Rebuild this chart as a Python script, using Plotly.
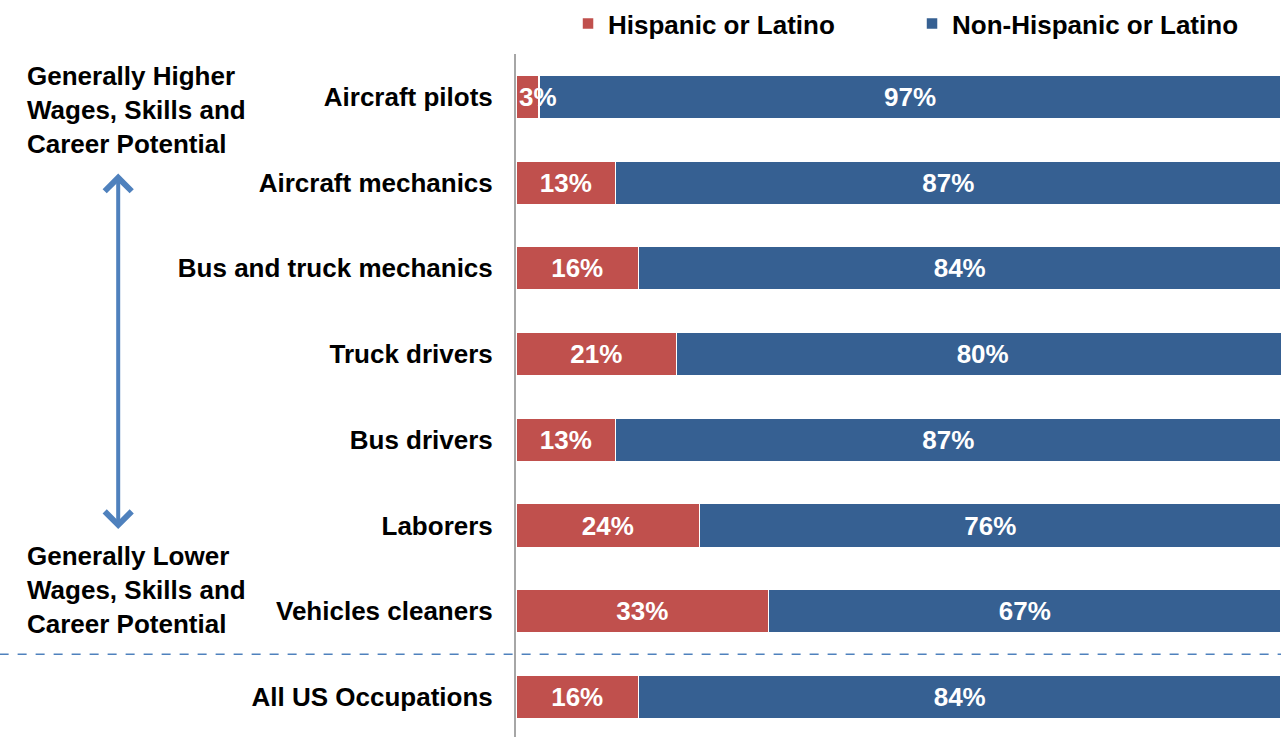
import plotly.graph_objects as go

categories = ["Aircraft pilots", "Aircraft mechanics", "Bus and truck mechanics",
              "Truck drivers", "Bus drivers", "Laborers", "Vehicles cleaners",
              "All US Occupations"]
hispanic = [3, 13, 16, 21, 13, 24, 33, 16]
non_hispanic = [97, 87, 84, 80, 87, 76, 67, 84]

RED = "#C0504D"
BLUE = "#366092"
FONT = "Liberation Sans, Arial, sans-serif"
FS = 26
SMALL = 5  # segments narrower than this get their label placed from the axis

fig = go.Figure()
for name, vals, col in [("Hispanic or Latino", hispanic, RED),
                        ("Non-Hispanic or Latino", non_hispanic, BLUE)]:
    labels = [f"{v}%" if v >= SMALL else "" for v in vals]
    fig.add_trace(go.Bar(
        y=categories, x=vals, orientation="h", name=name,
        marker=dict(color=col, line=dict(color="white", width=1.5)),
        text=labels, texttemplate="%{text}", textposition="inside",
        insidetextanchor="middle", textangle=0,
        textfont=dict(color="white", size=FS, family=FONT, weight="bold"),
    ))

# labels for very small segments, starting at the axis like in the original
for cat, v in zip(categories, hispanic):
    if v < SMALL:
        fig.add_annotation(x=0, y=cat, xref="x", yref="y", text=f"{v}%",
                           showarrow=False, xanchor="left", yanchor="middle", xshift=1,
                           font=dict(color="white", size=FS, family=FONT, weight="bold"))

fig.update_layout(
    width=1281, height=737,
    margin=dict(l=516, r=0, t=53, b=0),
    barmode="stack", bargap=0.49,
    paper_bgcolor="white", plot_bgcolor="white",
    font=dict(family=FONT, size=FS, color="black", weight="bold"),
    uniformtext=dict(minsize=FS, mode="show"),
    showlegend=True,
    legend=dict(orientation="h", x=0.068, y=1.044, xanchor="left", yanchor="middle",
                font=dict(size=FS, family=FONT, weight="bold"),
                entrywidth=299, entrywidthmode="pixels", traceorder="normal",
                bgcolor="rgba(0,0,0,0)"),
    xaxis=dict(range=[0, 100], visible=False, fixedrange=True),
    yaxis=dict(categoryorder="array", categoryarray=categories,
               range=[7.466, -0.5], showline=True, linecolor="#A6A6A6", linewidth=2,
               ticks="", ticklabelstandoff=16, showgrid=False, zeroline=False,
               tickfont=dict(size=FS, family=FONT, weight="bold", color="black")),
)

# dashed separator between the occupations and the all-US row
fig.add_shape(type="line", xref="paper", yref="y", x0=-0.675, x1=1, y0=6.5, y1=6.5,
              line=dict(color="#4F81BD", width=1.5, dash="dash"))

# double-headed arrow
fig.add_annotation(xref="paper", yref="paper", x=-0.520, y=0.825, ax=0, ay=357,
                   text="", showarrow=True, arrowhead=4, arrowside="end+start",
                   arrowsize=1.3, arrowwidth=4, arrowcolor="#4F81BD")

fig.add_annotation(xref="paper", yref="paper", x=-0.642, y=0.992,
                   xanchor="left", yanchor="top", align="left", showarrow=False,
                   text="Generally Higher<br>Wages, Skills and<br>Career Potential",
                   font=dict(size=FS, family=FONT, weight="bold", color="black"))
fig.add_annotation(xref="paper", yref="paper", x=-0.642, y=0.290,
                   xanchor="left", yanchor="top", align="left", showarrow=False,
                   text="Generally Lower<br>Wages, Skills and<br>Career Potential",
                   font=dict(size=FS, family=FONT, weight="bold", color="black"))

fig.write_html("out.html")
